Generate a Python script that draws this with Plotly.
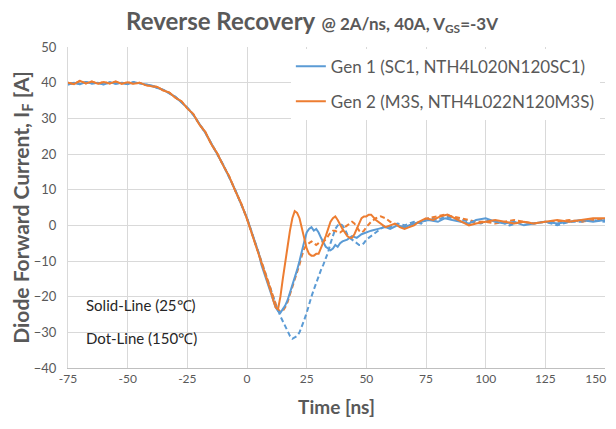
import plotly.graph_objects as go

# ---- data ----
t_pre = [-75, -72.5, -70, -67.5, -65, -62.5, -60, -57.5, -55, -52.5, -50, -47.5, -45, -42.5,
         -40, -37.5, -35, -32.5, -30, -27.5, -25, -22.5, -20, -17.5, -15, -12.5, -10, -7.5,
         -5, -2.5, 0, 2.5, 5]
gen1_pre = [39.5, 40, 39.6, 40.2, 39.8, 40, 39.5, 40.1, 39.7, 40, 39.6, 40.2, 39.8, 39.5,
            39.2, 38.5, 38, 37, 36, 34.5, 33, 31, 28.5, 26, 23, 20, 17, 13.5,
            10, 6, 2, -3, -8]
gen2_pre = [40, 39.6, 40.5, 39.8, 40.3, 39.7, 40.2, 39.8, 40.3, 39.7, 40.1, 39.7, 40, 39.3,
            39, 38.8, 37.8, 37.2, 35.8, 34.8, 32.8, 31.2, 28.3, 26.2, 22.8, 20.2, 16.8, 13.8,
            9.8, 6.2, 1.8, -3.2, -8.2]

t_g1_25 = [6, 8, 10, 11, 12, 13, 14, 15, 16, 17, 18, 19, 20, 21, 22, 23, 24, 25, 26, 27, 28, 29,
           30, 31, 32, 33, 34, 35, 36, 37, 38, 39, 40, 42, 44, 46, 48, 50, 52, 55, 58, 60, 63,
           66, 70, 73, 76, 80, 83, 86, 90, 93, 96, 100, 104, 108, 112, 116, 120, 125, 130, 135,
           140, 145, 150]
i_g1_25 = [-11, -15, -19, -21, -23, -24, -24.5, -23.5, -22.5, -21, -19, -17, -15, -12.5, -10,
           -7, -4.5, -2, -1, -0.5, -1.5, -1, -2, -3.5, -5, -6, -6.5, -7, -6.5, -5.5, -6, -5,
           -4.5, -4, -3, -3.5, -2.5, -2, -1.5, -1, -0.5, -1, 0, -0.5, 0.5, 1, 1.5, 1, 2, 1.5,
           1, 0.5, 1.5, 2, 1, 0.5, 1, 0, 0.5, 1, 0.5, 1, 1.5, 1, 1.5]

t_g1_150 = [6, 8, 10, 12, 14, 16, 17, 18, 19, 20, 21, 22, 23, 24, 25, 26, 27, 28, 29, 30, 31, 32,
            33, 34, 35, 36, 37, 38, 39, 40, 41, 42, 43, 44, 45, 46, 47, 48, 49, 50, 52, 54, 56,
            58, 60, 63, 66, 70, 73, 76, 80, 83, 86, 90, 94, 98, 102, 106, 110, 115, 120, 125,
            130, 135, 140, 145, 150]
i_g1_150 = [-10, -14.5, -18.5, -22, -25.5, -28.5, -30, -31, -31.8, -31.5, -31, -30, -28.5,
            -26.5, -24.5, -22, -20, -18, -16, -14.5, -12.5, -11, -9.5, -7.5, -5, -3, -1, 0,
            0.5, 0, -1, -2.5, -3.5, -4, -4.5, -5, -5.5, -5.5, -5, -4, -3, -2, -1, 0, -0.5, 0.5,
            0, 1, 0.5, 2, 1.5, 2.5, 2, 1.5, 1, 0.5, 1.5, 1, 0, 1, 0.5, 1, 0, 1, 1, 1.5, 1]

t_g2_25 = [6, 8, 10, 11, 12, 13, 14, 15, 16, 17, 18, 19, 20, 21, 22, 23, 24, 25, 26, 27, 28, 29,
           30, 31, 32, 33, 34, 35, 36, 37, 38, 39, 40, 41, 42, 43, 44, 45, 46, 47, 48, 49, 50,
           51, 52, 54, 56, 58, 60, 62, 64, 66, 68, 70, 72, 75, 78, 81, 84, 87, 90, 93, 96, 100,
           104, 108, 112, 116, 120, 125, 130, 135, 140, 145, 150]
i_g2_25 = [-10, -14, -18.5, -21, -23, -23.5, -20, -15, -11, -6, -1.5, 2, 4, 3.5, 2, -1, -4, -6.5,
           -8, -8.5, -8.5, -8, -8, -6.5, -5, -3, -1, 1, 2, 2.5, 1.5, 0, -1, -2, -3, -3.5, -3.5,
           -2.5, -1, 0.5, 2, 2.5, 2.5, 3, 3, 1.5, 0.5, -0.5, 0, 0.5, -0.5, -1, -0.5, 0, 1, 2,
           1.5, 2.5, 3, 2, 1, 0, 0.5, 1, 1.5, 1, 0.5, 1, 0.5, 1, 1.5, 1, 1.5, 2, 2]

t_g2_150 = [6, 8, 10, 12, 13, 14, 15, 16, 17, 18, 19, 20, 21, 22, 23, 24, 25, 26, 27, 28, 29, 30,
            31, 32, 33, 34, 35, 36, 37, 38, 39, 40, 41, 42, 43, 44, 45, 46, 47, 48, 49, 50, 52,
            54, 56, 58, 60, 63, 66, 70, 73, 76, 80, 83, 86, 90, 93, 96, 100, 104, 108, 112, 116,
            120, 125, 130, 135, 140, 145, 150]
i_g2_150 = [-10, -14.5, -18.5, -22, -23.5, -24.3, -24, -23, -21.5, -19.5, -17.5, -15.5, -13.5,
            -11, -8.5, -6.5, -5.5, -5, -4.5, -5, -5.5, -5, -4.5, -4.5, -4, -3, -2, -1.5, -1.5,
            -2, -2, -1.5, -0.5, 0, 0.5, 1, 0.5, -0.5, -1.5, -2, -1.5, -0.5, 1, 2, 2.5, 2, 1, 0,
            -0.5, 0.5, 1, 2, 2.5, 3, 2.5, 2, 1.5, 1, 1, 0.5, 1, 1.5, 1, 0.5, 1, 1, 1.5, 1, 1.5,
            1.5]

x_ticks = [-75, -50, -25, 0, 25, 50, 75, 100, 125, 150]
x_tick_labels = ["-75", "-50", "-25", "0", "25", "50", "75", "100", "125", "150"]
y_ticks = [-40, -30, -20, -10, 0, 10, 20, 30, 40, 50]

BLUE = "#5B9BD5"
ORANGE = "#ED7D31"
GRAY = "#595959"
FONT = "Lato"
DASH = "5px,3px"

# the last label sits at the window edge: pad it with trailing no-break spaces so it
# stays fully visible (centred text shifts left)
x_tick_text = x_tick_labels[:-1] + [x_tick_labels[-1] + "\u00a0" * 6]

fig = go.Figure()
fig.add_trace(go.Scatter(x=t_pre + t_g1_150, y=gen1_pre + i_g1_150, mode="lines",
                         line=dict(color=BLUE, width=2, dash=DASH), showlegend=False))
fig.add_trace(go.Scatter(x=t_pre + t_g2_150, y=gen2_pre + i_g2_150, mode="lines",
                         line=dict(color=ORANGE, width=2, dash=DASH), showlegend=False))
fig.add_trace(go.Scatter(x=t_pre + t_g1_25, y=gen1_pre + i_g1_25, mode="lines",
                         line=dict(color=BLUE, width=2),
                         name="Gen 1 (SC1, NTH4L020N120SC1)", legendgroup="a"))
fig.add_trace(go.Scatter(x=t_pre + t_g2_25, y=gen2_pre + i_g2_25, mode="lines",
                         line=dict(color=ORANGE, width=2),
                         name="Gen 2 (M3S, NTH4L022N120M3S)", legendgroup="b"))

# page body adds an 8px offset; keep the figure small enough to avoid scrollbars
fig.update_layout(
    width=608, height=413,
    margin=dict(l=60, r=11, t=39, b=53, autoexpand=False),
    paper_bgcolor="white", plot_bgcolor="white",
    font=dict(family=FONT, color=GRAY, size=13),
    title=dict(
        text="<b>Reverse Recovery</b> <span style='font-size:17px'><b>@ 2A/ns, 40A, V<sub>GS</sub>=-3V</b></span>",
        x=0.5, xanchor="center", y=0.968, yanchor="middle",
        font=dict(family=FONT, size=24, color=GRAY)),
    xaxis=dict(range=[-75, 150], tickvals=x_ticks, ticktext=x_tick_text,
               showgrid=True, gridcolor="#D9D9D9",
               zeroline=False, showline=True, linecolor="#BFBFBF", ticks="",
               automargin=False, ticklabeloverflow="allow", tickfont=dict(size=12, color=GRAY),
               title=dict(text="<b>Time [ns]</b>", font=dict(size=19, color=GRAY), standoff=15)),
    yaxis=dict(range=[-40, 50], tickvals=y_ticks, showgrid=True, gridcolor="#D9D9D9",
               zeroline=False, showline=True, linecolor="#D9D9D9", ticks="",
               automargin=False, ticklabelstandoff=8, tickfont=dict(size=13, color=GRAY),
               title=dict(text="<b>Diode Forward Current, I<sub>F</sub> [A]</b>",
                          font=dict(size=21, color=GRAY), standoff=3)),
    legend=dict(x=0.415, y=0.995, xanchor="left", yanchor="top", bgcolor="white",
                font=dict(size=17, color=GRAY), traceorder="grouped", tracegroupgap=10),
    showlegend=True,
)

fig.add_shape(type="rect", xref="paper", yref="paper", x0=0.004, x1=0.295, y0=0.04, y1=0.27,
              fillcolor="white", line=dict(width=0), layer="between")
fig.add_annotation(text="Solid-Line (25℃)", xref="paper", yref="paper", x=0.03, y=0.195,
                   xanchor="left", yanchor="middle", showarrow=False,
                   font=dict(size=15, color="#262626"))
fig.add_annotation(text="Dot-Line (150℃)", xref="paper", yref="paper", x=0.03, y=0.095,
                   xanchor="left", yanchor="middle", showarrow=False,
                   font=dict(size=15, color="#262626"))

fig.write_html("out.html")
